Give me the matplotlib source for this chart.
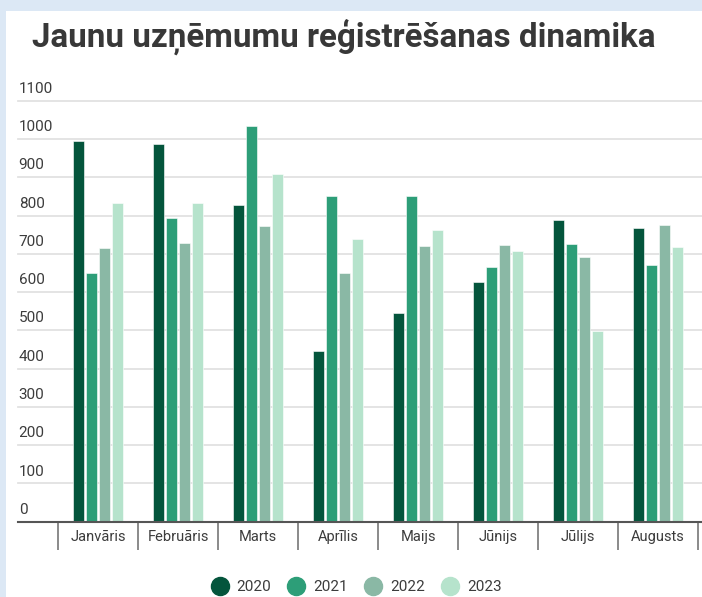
import matplotlib
matplotlib.use("Agg")
import matplotlib.pyplot as plt
from matplotlib.patches import Rectangle
from matplotlib.lines import Line2D
import numpy as np

plt.rcParams['font.family'] = ['Roboto', 'DejaVu Sans']

months = ["Janvāris", "Februāris", "Marts", "Aprīlis", "Maijs", "Jūnijs", "Jūlijs", "Augusts"]
years = ["2020", "2021", "2022", "2023"]
v2020 = [995, 988, 828, 446, 545, 626, 788, 767]
v2021 = [651, 793, 1033, 850, 850, 666, 726, 670]
v2022 = [716, 728, 773, 651, 720, 722, 691, 776]
v2023 = [834, 834, 909, 738, 763, 708, 498, 719]
series = [v2020, v2021, v2022, v2023]
colors = ["#04553c", "#2d9e78", "#8ab8a5", "#b6e3cc"]
yticks = [0, 100, 200, 300, 400, 500, 600, 700, 800, 900, 1000, 1100]

W, H = 702, 597
fig = plt.figure(figsize=(W / 100, H / 100), dpi=100)
fig.patch.set_facecolor("#dce8f5")
bg = Rectangle((6 / W, 0), 1 - 6 / W, 1 - 11 / H, transform=fig.transFigure,
               facecolor="white", edgecolor="none", zorder=-10)
fig.patches.append(bg)

y0 = 521.7
ytop = 100.7
ax = fig.add_axes([18 / W, 1 - y0 / H, (W - 18) / W, (y0 - ytop) / H])
ax.set_facecolor("none")
ax.set_zorder(5)

x = np.arange(len(months))
pitch = 0.1625
bw = 0.1375
for i, (vals, c) in enumerate(zip(series, colors)):
    ax.bar(x + (i - 1.5) * pitch, vals, width=bw, color=c, edgecolor="white", linewidth=0.4, zorder=3)

ax.set_xlim(-1, 7.55)
ax.set_ylim(0, 1100)

# gridlines
for v in yticks[1:]:
    ax.axhline(v, color="#e2e2e2", lw=1.3, zorder=1, clip_on=False)
ax.set_yticks([])

# y labels above gridlines
for v in yticks:
    ax.annotate(str(v), xy=(0, v), xycoords=ax.get_yaxis_transform(),
                xytext=(0.5, 3.5), textcoords="offset points", ha="left", va="bottom",
                fontsize=11, color="#3c3c3c")

for s in ["top", "right", "left"]:
    ax.spines[s].set_visible(False)
ax.spines["bottom"].set_color("#555555")
ax.spines["bottom"].set_linewidth(1.5)
ax.spines["bottom"].set_zorder(4)

ax.set_xticks(x)
ax.set_xticklabels(months, fontsize=10.5, color="#3c3c3c")
ax.tick_params(axis="x", which="major", length=0, pad=6)
ax.set_xticks(np.arange(-0.5, 8.0, 1.0), minor=True)
ax.tick_params(axis="x", which="minor", length=20, width=1.2, color="#777777", direction="out")

# title
fig.text(32 / W, 1 - 47 / H, "Jaunu uzņēmumu reģistrēšanas dinamika", fontsize=23.9,
         fontweight="bold", color="#383838", ha="left", va="baseline")

handles = [Line2D([0], [0], marker="o", linestyle="none", markersize=13,
                  markerfacecolor=c, markeredgecolor=c) for c in colors]
fig.legend(handles, years, loc="center", bbox_to_anchor=(356 / W, 1 - 587 / H), ncol=4,
           frameon=False, fontsize=11, labelcolor="#3c3c3c", handletextpad=0.5,
           columnspacing=1.05, handlelength=1.2)

fig.savefig("out.png", dpi=100, facecolor=fig.get_facecolor())
